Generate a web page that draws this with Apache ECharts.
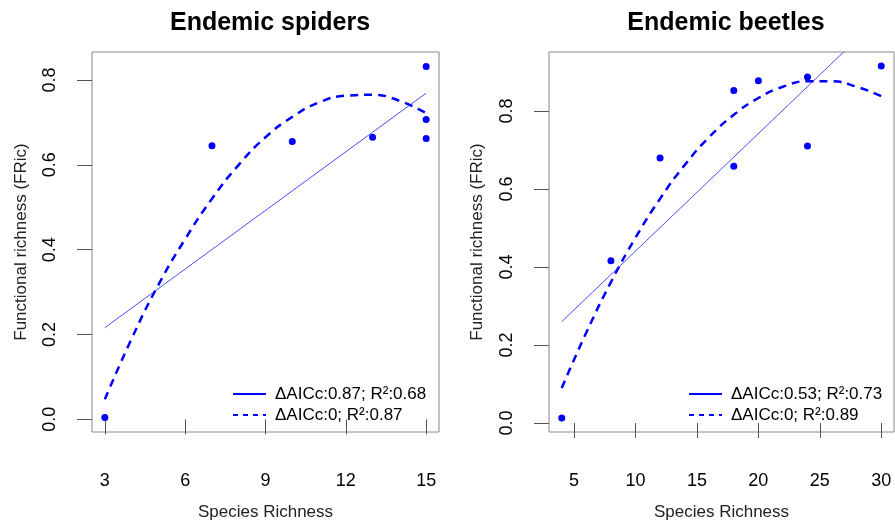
<!DOCTYPE html>
<html>
<head>
<meta charset="utf-8">
<script src="https://cdn.jsdelivr.net/npm/echarts@6/dist/echarts.min.js"></script>
<style>
  html, body { margin: 0; padding: 0; background: #fff; }
  #main { width: 895px; height: 523px; }
</style>
</head>
<body>
<div id="main"></div>
<script>
// Endemic spiders: observed points and the two fitted models
var spiderX = [3, 7, 10, 13, 15, 15, 15];
var spiderY = [0.004, 0.645, 0.655, 0.665, 0.832, 0.707, 0.662];
var spiderLinX = [3, 15];
var spiderLinY = [0.216, 0.769];
var spiderQuadX = [3, 4, 5, 6, 7, 8, 9, 10, 11, 12, 13, 14, 15];
var spiderQuadY = [0.047, 0.19, 0.317, 0.425, 0.52, 0.60, 0.665, 0.713, 0.747, 0.763, 0.765, 0.751, 0.722];

// Endemic beetles
var beetleX = [4, 8, 12, 18, 18, 20, 24, 24, 30];
var beetleY = [0.013, 0.416, 0.679, 0.852, 0.658, 0.877, 0.887, 0.710, 0.915];
var beetleLinX = [4, 30];
var beetleLinY = [0.260, 1.043];
var beetleQuadX = [4, 6, 8, 10, 12, 14, 16, 18, 20, 22, 24, 26, 28, 30];
var beetleQuadY = [0.090, 0.232, 0.361, 0.475, 0.575, 0.661, 0.733, 0.790, 0.833, 0.862, 0.876, 0.876, 0.862, 0.838];

var spiderTicks = [3, 6, 9, 12, 15];
var beetleTicks = [5, 10, 15, 20, 25, 30];
var yTicks = [0, 0.2, 0.4, 0.6, 0.8];

var legendNames = [
    ['ΔAICc:0.87; R²:0.68', 'ΔAICc:0; R²:0.87'],
    ['ΔAICc:0.53; R²:0.73', 'ΔAICc:0; R²:0.89']
];

var font = '"Liberation Sans", Arial, Helvetica, sans-serif';
var blue = '#0000ff';

function pairs(xs, ys) {
    return xs.map(function (x, i) { return [x, ys[i]]; });
}

function xAxisFor(idx, min, max, ticks) {
    return {
        type: 'value', gridIndex: idx, min: min, max: max,
        name: 'Species Richness', nameLocation: 'middle', nameGap: 72,
        nameTextStyle: { fontFamily: font, fontSize: 17, color: '#222' },
        axisLine: { show: false },
        splitLine: { show: false },
        axisTick: { show: true, length: 15, customValues: ticks, lineStyle: { color: '#555' } },
        axisLabel: { customValues: ticks, margin: 40, fontFamily: font, fontSize: 18, color: '#000' }
    };
}

function yAxisFor(idx, min, max, gap) {
    return {
        type: 'value', gridIndex: idx, min: min, max: max,
        name: 'Functional richness (FRic)', nameLocation: 'middle', nameGap: gap,
        nameTextStyle: { fontFamily: font, fontSize: 17, color: '#222' },
        axisLine: { show: false },
        splitLine: { show: false },
        axisTick: { show: true, length: 15, customValues: yTicks, lineStyle: { color: '#555' } },
        axisLabel: {
            customValues: yTicks, rotate: 90, margin: 33,
            fontFamily: font, fontSize: 18, color: '#000',
            formatter: function (v) { return v.toFixed(1); }
        }
    };
}

function legendFor(idx, left) {
    return {
        orient: 'vertical', left: left, top: 379,
        itemWidth: 33, itemHeight: 14, itemGap: 1,
        selectedMode: false,
        textStyle: { fontFamily: font, fontSize: 17, color: '#000', lineHeight: 20, padding: [0, 0, 0, 4] },
        data: [
            { name: legendNames[idx][0], lineStyle: { width: 2, color: blue }, itemStyle: { opacity: 0 } },
            { name: legendNames[idx][1], lineStyle: { width: 2, color: blue, type: [5, 5] }, itemStyle: { opacity: 0 } }
        ]
    };
}

function seriesFor(idx, px, py, lx, ly, qx, qy) {
    return [
        {
            type: 'scatter', xAxisIndex: idx, yAxisIndex: idx,
            data: pairs(px, py), symbolSize: 7,
            itemStyle: { color: blue, opacity: 1 }, silent: true
        },
        {
            name: legendNames[idx][0], type: 'line', xAxisIndex: idx, yAxisIndex: idx,
            data: pairs(lx, ly), symbol: 'none', clip: true,
            lineStyle: { color: '#4d4dff', width: 1 }, silent: true
        },
        {
            name: legendNames[idx][1], type: 'line', xAxisIndex: idx, yAxisIndex: idx,
            data: pairs(qx, qy), symbol: 'none', smooth: true, clip: true,
            lineStyle: { color: blue, width: 2.5, type: [8, 6], cap: 'butt' }, silent: true
        }
    ];
}

var myChart = echarts.init(document.getElementById('main'), null, { renderer: 'canvas' });

option = {
    backgroundColor: '#fff',
    animation: false,
    title: [
        {
            text: 'Endemic spiders', left: 265, top: 6, textAlign: 'center',
            textStyle: { fontFamily: font, fontSize: 25, fontWeight: 'bold', color: '#000' }
        },
        {
            text: 'Endemic beetles', left: 721, top: 6, textAlign: 'center',
            textStyle: { fontFamily: font, fontSize: 25, fontWeight: 'bold', color: '#000' }
        }
    ],
    legend: [legendFor(0, 227), legendFor(1, 683)],
    grid: [
        { left: 92, top: 52, width: 347, height: 380, show: true, borderColor: '#888', borderWidth: 1, backgroundColor: 'transparent', outerBoundsMode: 'none', containLabel: false },
        { left: 549, top: 52, width: 345, height: 380, show: true, borderColor: '#888', borderWidth: 1, backgroundColor: 'transparent', outerBoundsMode: 'none', containLabel: false }
    ],
    xAxis: [
        xAxisFor(0, 2.52, 15.48, spiderTicks),
        xAxisFor(1, 2.96, 31.04, beetleTicks)
    ],
    yAxis: [
        yAxisFor(0, -0.030, 0.866, 62),
        yAxisFor(1, -0.023, 0.951, 63)
    ],
    series: []
        .concat(seriesFor(0, spiderX, spiderY, spiderLinX, spiderLinY, spiderQuadX, spiderQuadY))
        .concat(seriesFor(1, beetleX, beetleY, beetleLinX, beetleLinY, beetleQuadX, beetleQuadY))
};

myChart.setOption(option);
</script>
</body>
</html>
